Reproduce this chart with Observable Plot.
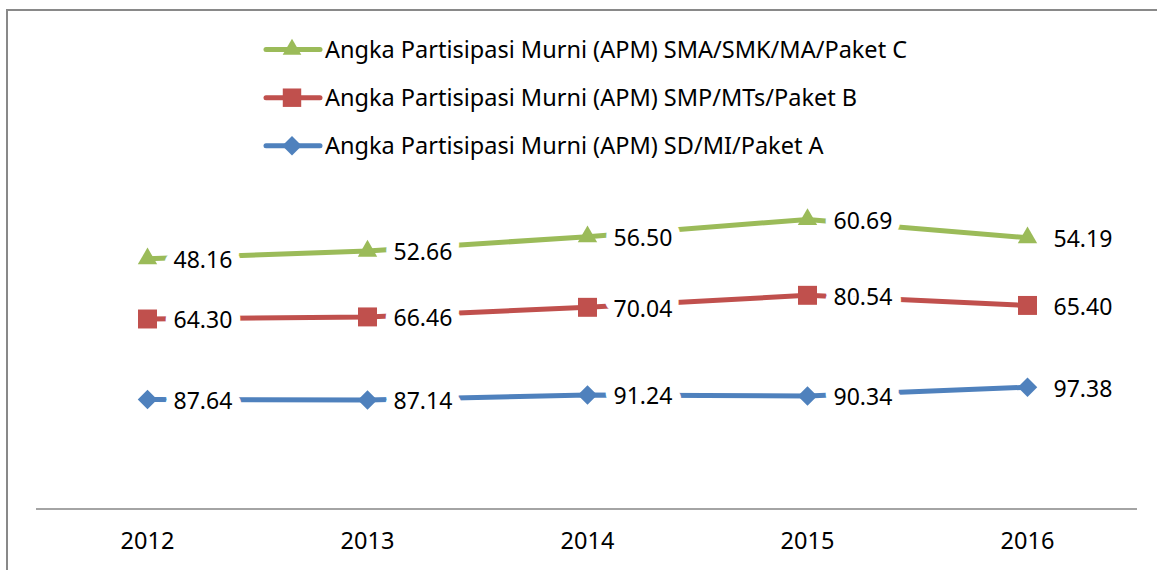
<!DOCTYPE html>
<html>
<head>
<meta charset="utf-8">
<script src="https://cdn.jsdelivr.net/npm/d3@7"></script>
<script src="https://cdn.jsdelivr.net/npm/@observablehq/plot@0.6"></script>
<style>
  html, body { margin: 0; padding: 0; background: #fff; }
  #page { position: relative; width: 1157px; height: 570px; overflow: hidden; font-family: "Noto Sans", sans-serif; }
  #page > svg { position: absolute; left: 0; top: 0; }
</style>
</head>
<body>
<div id="page"></div>
<script>
const years = ["2012", "2013", "2014", "2015", "2016"];
const apmSD  = [87.64, 87.14, 91.24, 90.34, 97.38];
const apmSMP = [64.30, 66.46, 70.04, 80.54, 65.40];
const apmSMA = [48.16, 52.66, 56.50, 60.69, 54.19];

const seriesNames = [
  "Angka Partisipasi Murni (APM) SMA/SMK/MA/Paket C",
  "Angka Partisipasi Murni (APM) SMP/MTs/Paket B",
  "Angka Partisipasi Murni (APM) SD/MI/Paket A"
];
const colors = ["#9BBB59", "#C0504D", "#4F81BD"];

// stacked line chart (as in the original): cumulative positions, raw values as labels
const rows = [];
years.forEach((yr, i) => {
  const a = apmSD[i], b = a + apmSMP[i], c = b + apmSMA[i];
  rows.push({year: yr, series: "SD", top: a, value: apmSD[i]});
  rows.push({year: yr, series: "SMP", top: b, value: apmSMP[i]});
  rows.push({year: yr, series: "SMA", top: c, value: apmSMA[i]});
});
const colorOf = {SMA: colors[0], SMP: colors[1], SD: colors[2]};
const sub = s => rows.filter(d => d.series === s);

const marks = [
  Plot.ruleY([0], {stroke: "#868686", strokeWidth: 1.5}),
  Plot.axisX({tickSize: 0, tickPadding: 23, fontSize: 23.5, fill: "#000"})
];
for (const s of ["SD", "SMP", "SMA"]) {
  const c = colorOf[s];
  marks.push(Plot.line(sub(s), {x: "year", y: "top", stroke: c, strokeWidth: 5}));
}
marks.push(Plot.dot(sub("SD"), {x: "year", y: "top", symbol: "square", r: 7.8, rotate: 45, fill: colorOf.SD, stroke: null}));
marks.push(Plot.dot(sub("SMP"), {x: "year", y: "top", symbol: "square", r: 10.7, fill: colorOf.SMP, stroke: null}));
marks.push(Plot.dot(sub("SMA"), {x: "year", y: "top", symbol: "triangle", r: 7.2, fill: colorOf.SMA, stroke: null}));
marks.push(Plot.text(rows, {
  x: "year", y: "top", text: d => d.value.toFixed(2),
  textAnchor: "start", dx: 26, dy: 2, fill: "#000",
  stroke: "#fff", strokeWidth: 18, strokeLinejoin: "round", fontSize: 23
}));

const chart = Plot.plot({
  width: 1157,
  height: 570,
  marginLeft: 36,
  marginRight: 20,
  marginTop: 8.3,
  marginBottom: 61.5,
  style: {fontFamily: "Noto Sans", fontSize: "23px", background: "transparent", color: "#000"},
  x: {type: "point", domain: years, padding: 0.5, label: null},
  y: {domain: [0, 400], axis: null},
  marks
});
document.getElementById("page").appendChild(chart);

// overlay: chart-area border and legend
const svg = d3.select("#page").append("svg")
  .attr("width", 1157).attr("height", 570)
  .style("pointer-events", "none");
svg.append("path").attr("d", "M7,600 V10 H1200")
  .attr("fill", "none").attr("stroke", "#898989").attr("stroke-width", 2);

const legendY = [49.5, 97.7, 145.7];
const symbols = [d3.symbolTriangle, d3.symbolSquare, d3.symbolSquare];
const symSizes = [150, 340, 190];
const rot = [0, 0, 45];
seriesNames.forEach((name, i) => {
  const g = svg.append("g").attr("transform", `translate(0,${legendY[i]})`);
  g.append("line").attr("x1", 266).attr("x2", 320).attr("y1", 0).attr("y2", 0)
    .attr("stroke", colors[i]).attr("stroke-width", 5).attr("stroke-linecap", "round");
  g.append("path").attr("d", d3.symbol(symbols[i], symSizes[i])())
    .attr("transform", `translate(292,0) rotate(${rot[i]})`)
    .attr("fill", colors[i]);
  g.append("text").attr("x", 325).attr("y", 0).attr("dy", "0.35em")
    .attr("font-family", "Noto Sans").attr("font-size", 23.5).attr("fill", "#000")
    .text(name);
});
</script>
</body>
</html>
